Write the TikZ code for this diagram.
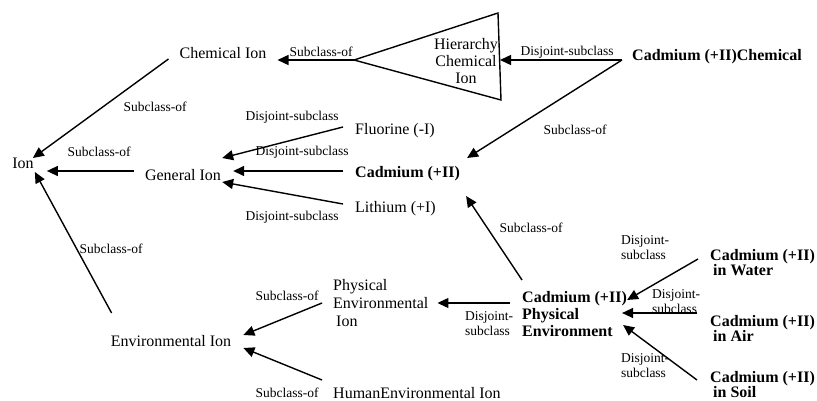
\documentclass[tikz,border=0pt]{standalone}
\usepackage{fontspec}
\setmainfont{Liberation Serif}
\usepackage{tikz}
\usetikzlibrary{arrows.meta,positioning,calc}
\tikzset{
  cls/.style={font=\fontsize{16}{18}\selectfont,inner sep=0pt,align=left},
  bcls/.style={inner sep=0pt,align=left,font=\fontsize{16}{17}\selectfont\bfseries},
  lbl/.style={font=\fontsize{13.5}{15}\selectfont,inner sep=0pt,align=left},
  arr/.style={-{Triangle[length=11pt,width=10pt]},line width=1.4pt},
  tri/.style={line width=1.4pt,line join=miter},
}
\begin{document}
\begin{tikzpicture}[x=1pt,y=-1pt]
  \useasboundingbox (0,0) rectangle (817,401);
  % classes
  \node[cls] (ion) at (23,163) {Ion};
  \node[cls] (chem) at (223,53) {Chemical Ion};
  \node[cls] (gen) at (183,175) {General Ion};
  \node[cls] (env) at (171,341) {Environmental Ion};
  \node[cls,anchor=west] (fluor) at (355,131) {Fluorine (-I)};
  \node[bcls,anchor=west] (cadii) at (355,174) {Cadmium (+II)};
  \node[cls,anchor=west] (lith) at (355,209) {Lithium (+I)};
  \node[cls,anchor=west] (physenv) at (333,303) {Physical\\Environmental\\\hspace*{3pt}Ion};
  \node[cls,anchor=west] (human) at (333,393) {HumanEnvironmental Ion};
  \node[bcls,anchor=west] (cadchem) at (632,57) {Cadmium (+II)Chemical};
  \node[bcls,anchor=west] (cpe) at (522,314) {Cadmium (+II)\\Physical\\Environment};
  \node[bcls,anchor=west,font=\fontsize{16}{15}\selectfont\bfseries] (water) at (710,263) {Cadmium (+II)\\\hspace*{3pt}in Water};
  \node[bcls,anchor=west,font=\fontsize{16}{15}\selectfont\bfseries] (air) at (710,328) {Cadmium (+II)\\\hspace*{3pt}in Air};
  \node[bcls,anchor=west,font=\fontsize{16}{15}\selectfont\bfseries] (soil) at (710,385) {Cadmium (+II)\\\hspace*{3pt}in Soil};
  % hierarchy triangle
  \coordinate (hapex) at (354,60);
  \coordinate (htop) at (498,13);
  \coordinate (hbot) at (501,100);
  \coordinate (hbase) at (500,60);
  \draw[tri] (hapex) -- (htop) -- (hbot) -- cycle;
  \node[cls,align=center,font=\fontsize{16}{17}\selectfont] (hier) at (466,61) {Hierarchy\\Chemical\\Ion};
  % relations
  \draw[arr] ([shift={(-11,6)}]chem.west) -- ([shift={(-1,-5)}]ion.east);
  \draw[arr] ([shift={(-11,-4)}]gen.west) -- ([shift={(13,8)}]ion.east);
  \draw[arr] ([shift={(1,-28)}]env.west) -- ([shift={(1,9)}]ion.east);
  \draw[arr] ([shift={(-12,-4)}]fluor.west) -- ([shift={(1,-17)}]gen.east);
  \draw[arr] ([shift={(-12,-3)}]cadii.west) -- ([shift={(12,-4)}]gen.east);
  \draw[arr] ([shift={(-12,-5)}]lith.west) -- ([shift={(1,7)}]gen.east);
  \draw[arr] (hapex) -- ([shift={(11,7)}]chem.east);
  \draw[arr] ([shift={(-10,3)}]cadchem.west) -- (hbase);
  \draw[arr] ([shift={(-10,3)}]cadchem.west) -- ([shift={(7,-16)}]cadii.east);
  \draw[arr] ([shift={(0,-34)}]cpe.west) -- ([shift={(6,22)}]cadii.east);
  \draw[arr] ([shift={(-12,-11)}]cpe.west) -- ([shift={(9,0)}]physenv.east);
  \draw[arr] ([shift={(-11,0)}]physenv.west) -- ([shift={(12,-6)}]env.east);
  \draw[arr] ([shift={(-11,-13)}]human.west) -- ([shift={(12,7)}]env.east);
  \draw[arr] ([shift={(-12,-4)}]water.west) -- ([shift={(0,-14)}]cpe.east);
  \draw[arr] ([shift={(-13,-15)}]air.west) -- ([shift={(-5,-1)}]cpe.east);
  \draw[arr] ([shift={(-13,-5)}]soil.west) -- ([shift={(-4,11)}]cpe.east);
  % labels
  \node[lbl] (l1) at (155,107) {Subclass-of};
  \node[lbl] (l2) at (99,152) {Subclass-of};
  \node[lbl] (l3) at (111,249) {Subclass-of};
  \node[lbl] (l4) at (292,117) {Disjoint-subclass};
  \node[lbl] (l5) at (302,152) {Disjoint-subclass};
  \node[lbl] (l6) at (292,217) {Disjoint-subclass};
  \node[lbl] (l7) at (321,52) {Subclass-of};
  \node[lbl] (l8) at (567,52) {Disjoint-subclass};
  \node[lbl] (l9) at (575,130) {Subclass-of};
  \node[lbl] (l10) at (531,228) {Subclass-of};
  \node[lbl] (l11) at (489,324) {Disjoint-\\subclass};
  \node[lbl] (l12) at (287,296) {Subclass-of};
  \node[lbl] (l13) at (287,393) {Subclass-of};
  \node[lbl] (l14) at (645,248) {Disjoint-\\subclass};
  \node[lbl] (l15) at (676,302) {Disjoint-\\subclass};
  \node[lbl] (l16) at (645,366) {Disjoint-\\subclass};
\end{tikzpicture}
\end{document}
